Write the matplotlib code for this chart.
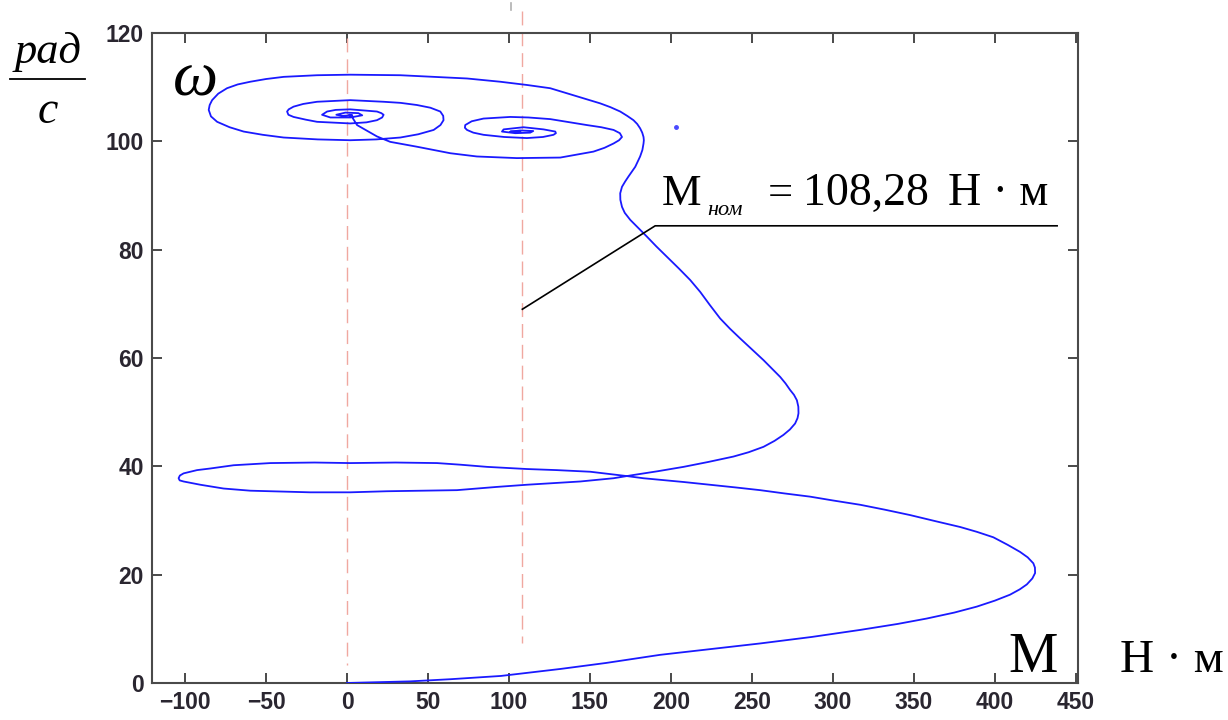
import matplotlib
matplotlib.use("Agg")
import matplotlib.pyplot as plt

# Фазовая траектория пуска двигателя: момент M (Н·м) и скорость ω (рад/с)
moment = [
    # разгон и первый большой виток
    0, 39, 64, 95, 132, 160, 193.4, 226, 255.1, 287, 316.9, 340, 358.0, 375,
    388.9, 400, 409.4, 415.5, 419.8, 423.2, 424.9, 424.8, 423.8, 420.3, 415.6,
    408.0, 399.1, 389.0, 378.6, 363, 347.7, 332, 316.9, 300, 286.0, 270, 255.1,
    240, 224.2, 208, 193.4, 183, 172.8, 150.2, 129.6, 111.1, 86.4, 70, 55.6, 30,
    2.0, -20, -47.3, -70.0, -84.4, -92.6, -100.9, -103.2, -104.0, -103.3, -100.9,
    -90.6, -76.2, -59.7, -22.7, 2.0, 24.7, 46, 67.9, 92.6, 111.1, 127.5, 144.0,
    164.6, 176.9, 192, 207.8, 223, 238.6, 248, 257.2, 264.0, 269.5, 273.5, 276.7,
    278.2, 278.8, 278.7, 277.8, 276.0, 273.6, 270.8, 267.5, 262.5, 257.2, 250.0,
    242.8, 236.5, 230.4, 224.0, 218.1, 211.9, 205, 197.5, 191, 185.2, 174.9, 171.5,
    169.8, 168.8, 168.7, 169.8, 171.8, 173.8, 178.0, 181.0, 182.4, 183.1, 183.3,
    183.1, 182.3, 181.0, 179.2, 176.9, 173.0, 168.7, 162.7, 156.4, 139.9, 125.5,
    111.1, 94.6, 74.1, 53.5, 32.9, 2.0, -18.5, -39.1, -50.0, -59.7, -67.5, -74.1,
    -79.5, -83.3, -84.8, -85.4, -84.0, -80.2, -72.5, -63.8, -52.0, -39.1, -18.0,
    2.0, 18.0, 32.9, 44.0, 53.5, 57.7, 59.6, 59.4, 57.6, 51.5, 43.2, 33.0, 22.6,
    2.0, -18.5, -27.0, -33.0, -36.0, -37.0, -36.2, -33.0, -25.5, -18.5, 2.0, 12.0,
    18.5, 21.7, 22.6, 21.2, 18.5, 2.0, -7.0, -12.3, -15.4, -10.3, 2.0, 9.4, 7.0,
    -1.0, -6.6, -2.9, 3.3, 1.4,
    # переход к номинальной нагрузке
    3.3, 6.2, 18.5, 26.7, 43.2, 63.8, 80.2, 104.9, 131.7, 152.2, 159.0, 164.6,
    168.0, 169.8, 168.5, 164.6, 157.0, 148.1, 125.5, 112.0, 100.8, 84.3, 77.0,
    73.0, 72.8, 74.1, 78.0, 84.3, 97.0, 111.1, 121.0, 127.5, 129.0, 128.6, 121.4,
    109.0, 96.7, 95.7, 103.9, 113.1, 115.0, 107.0, 100.8, 107.0,
]
omega = [
    0, 0.3, 0.7, 1.3, 2.6, 3.7, 5.2, 6.3, 7.3, 8.5, 9.8, 10.9, 11.9, 13.0,
    14.1, 15.2, 16.3, 17.3, 18.2, 19.3, 20.3, 21.3, 22.1, 23.2, 24.2,
    25.5, 26.9, 27.9, 28.8, 29.9, 31.0, 32.0, 32.9, 33.7, 34.4, 35.0, 35.6,
    36.1, 36.6, 37.1, 37.5, 37.8, 38.2, 39.0, 39.3, 39.5, 39.9, 40.3, 40.6, 40.7,
    40.6, 40.7, 40.6, 40.2, 39.6, 39.3, 38.7, 38.3, 37.8, 37.4, 37.2,
    36.6, 35.9, 35.5, 35.2, 35.2, 35.4, 35.5, 35.6, 36.2, 36.6, 36.9, 37.2,
    37.8, 38.4, 39.1, 39.9, 40.8, 41.8, 42.6, 43.6, 44.7, 45.8, 46.8, 47.9,
    48.9, 49.8, 51.0, 52.2, 53.2, 54.1, 55.3, 56.5, 58.0, 59.6, 61.6,
    63.6, 65.4, 67.3, 69.8, 72.2, 74.4, 76.5, 78.7, 80.6, 82.4, 85.5, 86.8,
    87.9, 89.2, 90.4, 91.6, 92.6, 93.5, 95.3, 97.2, 98.4, 99.6, 100.2,
    100.8, 101.6, 102.4, 103.2, 103.9, 104.7, 105.5, 106.3, 107.0, 108.5, 109.8,
    110.4, 111.0, 111.6, 111.9, 112.2, 112.3, 112.2, 111.9, 111.5, 111.0, 110.5, 109.8,
    108.8, 107.6, 106.7, 105.8, 104.6, 103.6, 102.6, 101.8, 101.2, 100.7, 100.35,
    100.2, 100.35, 100.7, 101.3, 102.1, 103.0, 103.9, 104.7, 105.5, 106.2, 106.7, 107.1, 107.3,
    107.6, 107.3, 106.9, 106.4, 105.9, 105.5, 104.9, 104.5, 104.0, 103.6, 103.3, 103.5,
    103.9, 104.4, 104.9, 105.2, 105.5, 105.9, 105.8, 105.5, 104.9, 104.4, 104.4, 104.8, 105.2,
    105.3, 104.9, 104.7, 104.8, 104.9,
    104.4, 103.0, 100.9, 99.9, 99.0, 97.8, 97.2, 96.9, 97.0, 98.1, 98.8, 99.6,
    100.2, 100.8, 101.5, 102.1, 102.6, 103.0, 104.1, 104.4, 104.5, 104.2, 103.7,
    103.0, 102.5, 102.1, 101.6, 101.2, 100.8, 100.6, 100.8, 101.2, 101.5, 101.8, 102.2,
    102.6, 102.2, 101.8, 101.5, 101.6, 101.9, 102.0, 101.8, 101.7,
]

# отдельная точка справа от второго фокуса
dot_m, dot_w = [203.3], [102.6]

M_NOM = 108.28
x_ticks = list(range(-100, 451, 50))
y_ticks = list(range(0, 121, 20))

SERIF = "Liberation Serif"
SANS = "Liberation Sans"
DASH_COLOR = "#f0a8a0"

fig = plt.figure(figsize=(12.28, 7.2), dpi=100)
ax = fig.add_axes([0.1238, 0.0514, 0.7538, 0.9028])

ax.plot(moment, omega, color="#1a1aff", linewidth=1.3, zorder=3,
        solid_joinstyle="round")
ax.plot(dot_m, dot_w, linestyle="none", marker="o", markersize=2.5,
        color="#4a4aff", zorder=3)

# вертикальные линии установившихся режимов
ax.plot([0, 0], [119, 3.3], color=DASH_COLOR, linewidth=1.0,
        linestyle=(0, (10, 5)), zorder=2, clip_on=False)
ax.plot([M_NOM, M_NOM], [124, 7.4], color=DASH_COLOR, linewidth=1.0,
        linestyle=(0, (10, 5)), zorder=2, clip_on=False)
ax.plot([101, 101], [124.3, 125.6], color="#b0b0b0", linewidth=1.2, clip_on=False)

# выноска с номинальным моментом
ax.plot([M_NOM, 190.3, 438.5], [69.0, 84.4, 84.4], color="black", linewidth=1.2,
        zorder=4)
anchor = (194.4, 88.2)
ax.annotate("M", xy=anchor, fontsize=32, family=SERIF)
ax.annotate("ном", xy=anchor, xytext=(45, -10), textcoords="offset pixels",
            fontsize=16, family=SERIF, style="italic")
ax.annotate("=", xy=anchor, xytext=(106, 0), textcoords="offset pixels",
            fontsize=32, family=SERIF)
ax.annotate("108,28", xy=anchor, xytext=(141, 0), textcoords="offset pixels",
            fontsize=33, family=SERIF)
ax.annotate("Н · м", xy=anchor, xytext=(286, 0), textcoords="offset pixels",
            fontsize=33, family=SERIF)

ax.text(-107.8, 108.5, "ω", fontsize=46, family=SERIF, style="italic")
ax.text(408.2, 2.0, "M", fontsize=40, family=SERIF)

fig.text(1120 / 1228, 1 - 672 / 720, "Н · м", fontsize=34, family=SERIF)
fig.text(48 / 1228, 1 - 63 / 720, "рад", fontsize=32, family=SERIF,
         style="italic", ha="center")
fig.add_artist(plt.Line2D([10 / 1228, 85 / 1228], [1 - 79 / 720, 1 - 79 / 720],
                          color="black", linewidth=1.3))
fig.text(48 / 1228, 1 - 123 / 720, "с", fontsize=33, family=SERIF,
         style="italic", ha="center")

ax.set_xlim(-120.4, 451.2)
ax.set_ylim(0, 120)
ax.set_xticks(x_ticks)
ax.set_yticks(y_ticks)
ax.tick_params(direction="in", length=7, width=1.3, top=True, right=True,
               labelsize=16.5, pad=6, colors="#3a3a3a", labelcolor="#2a2630")
for lab in ax.get_xticklabels() + ax.get_yticklabels():
    lab.set_fontweight("bold")
    lab.set_family(SANS)
for spine in ax.spines.values():
    spine.set_linewidth(1.5)
    spine.set_color("#4a4a4a")

fig.savefig("out.png", dpi=100)
